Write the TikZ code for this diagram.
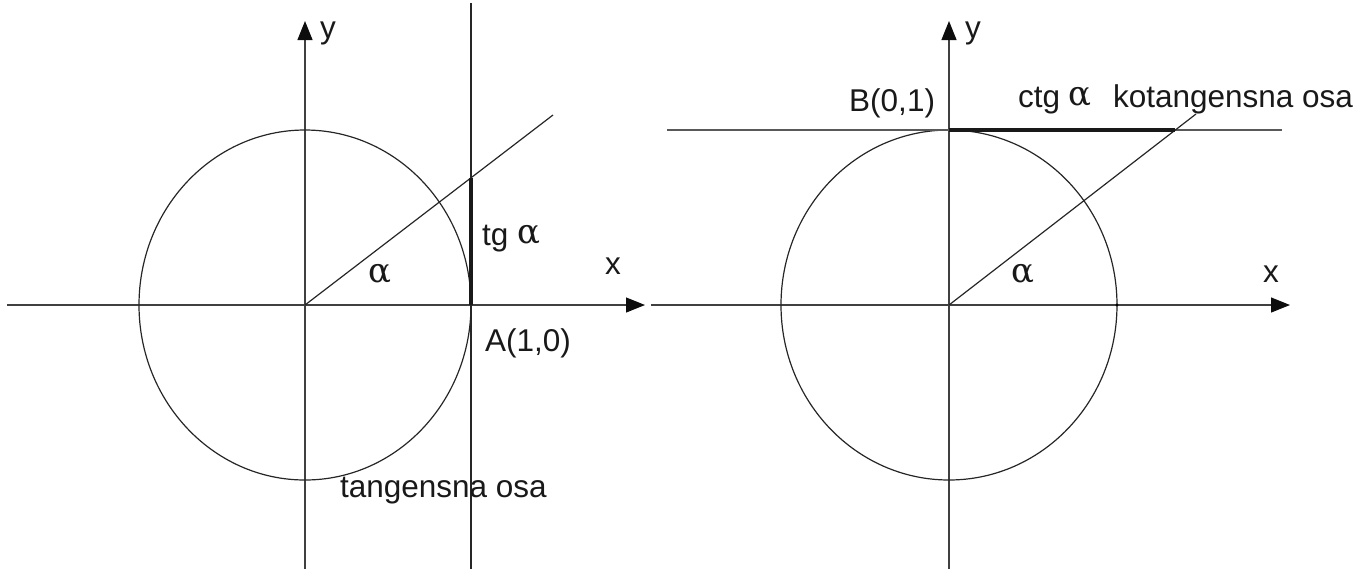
\documentclass[tikz,border=0pt]{standalone}
\usepackage{fontspec}
\setmainfont{Liberation Sans}
\newfontfamily\grk{DejaVu Serif}
\usetikzlibrary{arrows.meta}
\newcommand{\alf}{{\grk\fontsize{17}{17}\selectfont α}}
\tikzset{
  lbl/.style={inner sep=0pt, outer sep=0pt, font=\fontsize{15.75}{18}\selectfont, text=black!90},
  axisline/.style={line width=0.6pt, draw=black!75, -{Triangle[length=9.5pt,width=7.5pt,fill=black!95,color=black!95]}},
  thin/.style={line width=0.6pt, draw=black!85},
  hline/.style={line width=0.6pt, draw=black!65},
  thick2/.style={line width=2pt, draw=black!90},
}
\begin{document}
\begin{tikzpicture}[x=0.5pt, y=-0.5pt]
\useasboundingbox (0,0) rectangle (1366,569);
% ---------------- left diagram ----------------
\coordinate (O1) at (305,305);
\coordinate (xl1) at (7,305);
\coordinate (xr1) at (645,305);
\coordinate (yb1) at (305,569);
\coordinate (yt1) at (305,21);
\coordinate (tt) at (471,3);
\coordinate (tb) at (471,569);
\coordinate (A) at (471,305);
\coordinate (T) at (471,178);
\coordinate (R1) at (553,115);
\draw[axisline] (xl1) -- (xr1);
\draw[axisline] (yb1) -- (yt1);
\draw[thin] (O1) ellipse [x radius=166, y radius=175];
\draw[thin] (tb) -- (tt);
\draw[thin] (O1) -- (R1);
\draw[thick2] (A) -- (T);
\node[lbl, anchor=base west] (ylab1) at (320,38) {y};
\node[lbl, anchor=base west] (xlab1) at (605,274) {x};
\node[lbl, anchor=base west] (al1) at (368,282) {\alf};
\node[lbl, anchor=base west] (tg) at (482,245) {tg \raisebox{1pt}{\alf}};
\node[lbl, anchor=base west] (Alab) at (485,351) {A(1,0)};
\node[lbl, anchor=base west] (tos) at (340,497) {tangensna osa};
% ---------------- right diagram ----------------
\coordinate (O2) at (949,305);
\coordinate (xl2) at (651,305);
\coordinate (xr2) at (1290,305);
\coordinate (yb2) at (949,569);
\coordinate (yt2) at (949,21);
\coordinate (hl) at (667,130);
\coordinate (hr) at (1282,130);
\coordinate (B) at (949,130);
\coordinate (C) at (1175,130);
\coordinate (R2) at (1196,114);
\coordinate (P) at (1117,305);
\draw[axisline] (xl2) -- (xr2);
\draw[axisline] (yb2) -- (yt2);
\draw[thin] (O2) ellipse [x radius=168, y radius=175];
\draw[hline] (hl) -- (hr);
\draw[thin] (O2) -- (R2);
\draw[thick2] (B) -- (C);
\fill[black] (P) circle [radius=1.6];
\node[lbl, anchor=base west] (ylab2) at (965,38) {y};
\node[lbl, anchor=base west] (xlab2) at (1263,282) {x};
\node[lbl, anchor=base west] (al2) at (1011,282) {\alf};
\node[lbl, anchor=base east] (Blab) at (935,111) {B(0,1)};
\node[lbl, anchor=base west] (ctg) at (1018,107) {ctg \raisebox{1pt}{\alf}};
\node[lbl, anchor=base west] (kos) at (1113,107) {kotangensna osa};
\end{tikzpicture}
\end{document}
